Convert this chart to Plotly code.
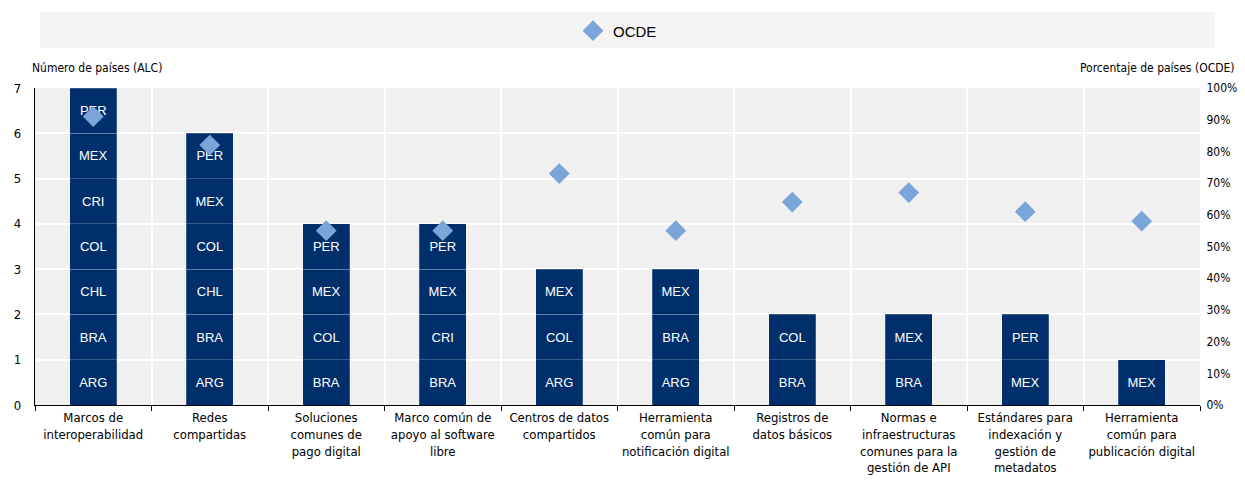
import plotly.graph_objects as go

categories = [
    "Marcos de<br>interoperabilidad",
    "Redes<br>compartidas",
    "Soluciones<br>comunes de<br>pago digital",
    "Marco común de<br>apoyo al software<br>libre",
    "Centros de datos<br>compartidos",
    "Herramienta<br>común para<br>notificación digital",
    "Registros de<br>datos básicos",
    "Normas e<br>infraestructuras<br>comunes para la<br>gestión de API",
    "Estándares para<br>indexación y<br>gestión de<br>metadatos",
    "Herramienta<br>común para<br>publicación digital",
]

# Countries (ALC) per category, from bottom to top of each stack
alc_countries = [
    ["ARG", "BRA", "CHL", "COL", "CRI", "MEX", "PER"],
    ["ARG", "BRA", "CHL", "COL", "MEX", "PER"],
    ["BRA", "COL", "MEX", "PER"],
    ["BRA", "CRI", "MEX", "PER"],
    ["ARG", "COL", "MEX"],
    ["ARG", "BRA", "MEX"],
    ["BRA", "COL"],
    ["BRA", "MEX"],
    ["MEX", "PER"],
    ["MEX"],
]

# Share of OECD countries (%)
ocde_pct = [91, 82, 55, 55, 73, 55, 64, 67, 61, 58]

BAR_COLOR = "#002F6C"
DIAMOND_COLOR = "#7BA4D9"
NARROW = "Liberation Sans Narrow, Arial Narrow, DejaVu Sans Condensed, Roboto, Liberation Sans, Arial, sans-serif"
REG = "Liberation Sans, Arial, sans-serif"

fig = go.Figure()

max_level = max(len(c) for c in alc_countries)
for level in range(max_level):
    xs, ys, txt = [], [], []
    for cat, countries in zip(categories, alc_countries):
        if len(countries) > level:
            xs.append(cat)
            ys.append(1)
            txt.append(countries[level])
    fig.add_trace(go.Bar(
        x=xs, y=ys, text=txt,
        textposition="inside", insidetextanchor="middle",
        textfont=dict(color="white", size=13, family=REG),
        marker=dict(color=BAR_COLOR, line=dict(color="rgba(255,255,255,0.35)", width=0.6)),
        width=0.4, showlegend=False, hoverinfo="skip",
    ))

fig.add_trace(go.Scatter(
    x=categories, y=ocde_pct, yaxis="y2", mode="markers", name="OCDE",
    marker=dict(symbol="diamond", size=16, color=DIAMOND_COLOR),
))

# legend background band
fig.add_shape(type="rect", xref="paper", yref="paper",
              x0=0.0043, x1=1.0129, y0=1.126, y1=1.2397,
              fillcolor="#F4F4F4", line=dict(width=0), layer="below")

fig.add_annotation(text="Número de países (ALC)", xref="paper", yref="paper",
                   x=-0.004, y=1.063, xanchor="left", yanchor="middle",
                   showarrow=False, font=dict(family=NARROW, size=12, color="black"))
fig.add_annotation(text="Porcentaje de países (OCDE)", xref="paper", yref="paper",
                   x=1.0318, y=1.063, xanchor="right", yanchor="middle",
                   showarrow=False, font=dict(family=NARROW, size=12, color="black"))

fig.update_layout(
    width=1229, height=475,
    margin=dict(l=27, r=37, t=80, b=78, autoexpand=False),
    paper_bgcolor="white", plot_bgcolor="#F0F0F0",
    barmode="stack", bargap=0.6,
    font=dict(family=NARROW, size=14, color="black"),
    legend=dict(orientation="h", x=0.5, xanchor="center", y=1.18, yanchor="middle",
                bgcolor="rgba(0,0,0,0)", font=dict(family=REG, size=15)),
    xaxis=dict(type="category", tickson="boundaries", range=[-0.5, len(categories) - 0.5],
               showgrid=True, gridcolor="white",
               gridwidth=1.5, showline=True, linecolor="black", linewidth=1.2,
               ticks="outside", ticklen=5, tickcolor="black", tickangle=0,
               automargin=False,
               tickfont=dict(family=NARROW, size=13)),
    yaxis=dict(range=[0, 7], dtick=1, showgrid=True, gridcolor="white", gridwidth=1.5,
               showline=True, linecolor="black", linewidth=1.2, zeroline=False,
               ticks="outside", ticklen=10, tickcolor="rgba(0,0,0,0)", automargin=False,
               tickfont=dict(family=NARROW, size=13)),
    yaxis2=dict(range=[0, 100], dtick=10, overlaying="y", side="right", showgrid=False,
                zeroline=False, showline=False, ticksuffix="%", automargin=False,
                ticks="outside", ticklen=3, tickcolor="rgba(0,0,0,0)",
                tickfont=dict(family=NARROW, size=12)),
)

fig.write_html("out.html")
